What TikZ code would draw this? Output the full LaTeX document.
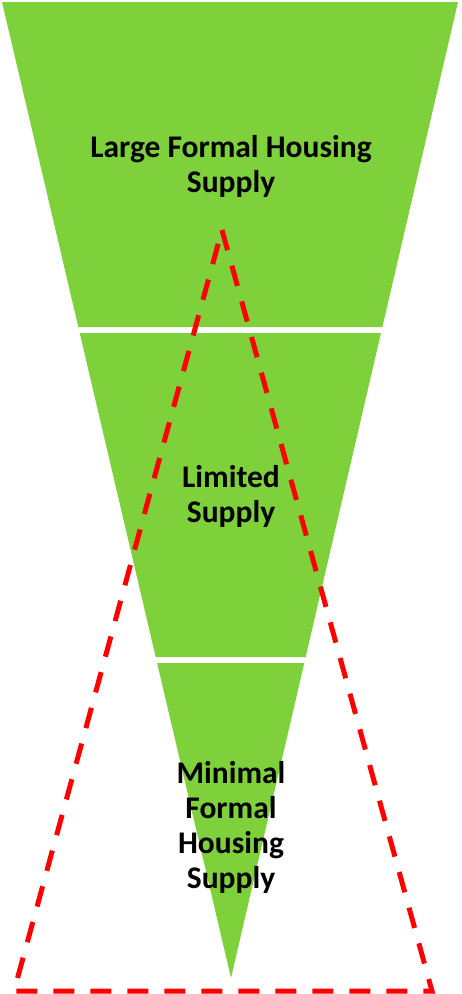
\documentclass[tikz,border=0pt]{standalone}
\usepackage{fontspec}
\setmainfont{Carlito}
\definecolor{bandgreen}{RGB}{127,209,59}
\definecolor{dashred}{RGB}{255,0,0}
\tikzset{
  band/.style={fill=bandgreen, draw=none},
  bandlabel/.style={font=\bfseries\fontsize{31.5}{35}\selectfont, align=center, text=black, inner sep=0pt},
  redtri/.style={draw=dashred, line width=5pt, dash pattern=on 21pt off 16pt, line join=miter}
}
\begin{document}
\begin{tikzpicture}[x=1pt,y=-1pt]
\useasboundingbox (0,0) rectangle (461,994);
% bands of the inverted triangle
\fill[band] (2,2) -- (458,2) -- (382.4,327) -- (78.3,327) -- cycle;
\fill[band] (79.7,333) -- (381.0,333) -- (305.7,657) -- (155.7,657) -- cycle;
\fill[band] (157.1,663) -- (304.3,663) -- (231,978) -- cycle;
% labels
\node[bandlabel] (top) at (231,166) {Large Formal Housing\\Supply};
\node[bandlabel] (mid) at (231,496) {Limited\\Supply};
\node[bandlabel] (low) at (231,827) {Minimal\\Formal\\Housing\\Supply};
% red dashed triangle
\coordinate (apex) at (222,230);
\coordinate (bl) at (14,991);
\coordinate (br) at (432,991);
\draw[redtri] (apex) -- (br) -- (bl) -- cycle;
\end{tikzpicture}
\end{document}
